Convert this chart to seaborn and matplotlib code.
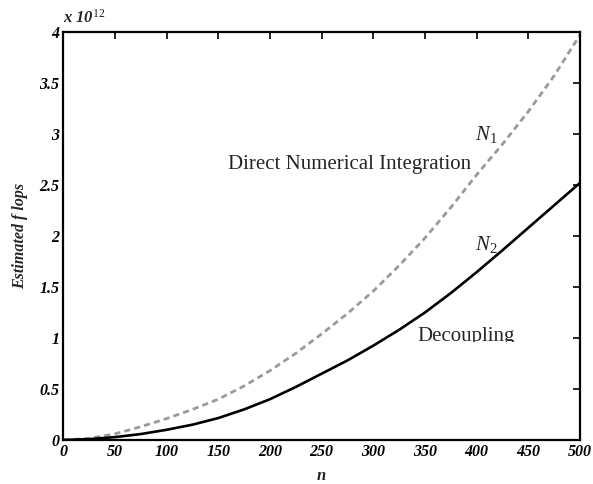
import numpy as np
import pandas as pd
import matplotlib
matplotlib.use("Agg")
import matplotlib.pyplot as plt
import seaborn as sns
from matplotlib.ticker import FuncFormatter
from matplotlib.patches import Rectangle

# data (values in units of 1e12 flops)
n = [0, 25, 50, 75, 100, 125, 150, 175, 200, 225, 250, 275, 300, 325, 350, 375, 400, 425, 450, 475, 500]
n1_direct = [0, 0.015, 0.06, 0.13, 0.21, 0.30, 0.40, 0.53, 0.68, 0.85, 1.04, 1.24, 1.46, 1.71, 1.98, 2.28, 2.60, 2.90, 3.22, 3.57, 3.97]
n2_decoupling = [0, 0.008, 0.028, 0.058, 0.10, 0.15, 0.215, 0.30, 0.40, 0.52, 0.65, 0.78, 0.925, 1.08, 1.25, 1.44, 1.645, 1.86, 2.08, 2.30, 2.52]
x_ticks = [0, 50, 100, 150, 200, 250, 300, 350, 400, 450, 500]
y_ticks = [0, 0.5, 1, 1.5, 2, 2.5, 3, 3.5, 4]

sns.set_style("white")
plt.rcParams['font.family'] = ['Liberation Serif', 'DejaVu Serif']
plt.rcParams['mathtext.fontset'] = 'custom'
plt.rcParams['mathtext.rm'] = 'Liberation Serif'
plt.rcParams['mathtext.it'] = 'Liberation Serif:italic'
plt.rcParams['mathtext.bf'] = 'Liberation Serif:bold:italic'

df = pd.DataFrame({"n": n, "N1": n1_direct, "N2": n2_decoupling})

fig = plt.figure(figsize=(5.93, 4.84), dpi=100)
ax = fig.add_axes([0.107, 0.091, 0.871, 0.843])

sns.lineplot(data=df, x="n", y="N1", ax=ax, color="#9a9a9a", linewidth=2.0,
             linestyle=(0, (2.2, 1.5)))
sns.lineplot(data=df, x="n", y="N2", ax=ax, color="black", linewidth=1.9)

ax.set_xlim(0, 500)
ax.set_ylim(0, 4)
ax.set_xticks(x_ticks)
ax.set_yticks(y_ticks)
ax.yaxis.set_major_formatter(FuncFormatter(lambda v, p: "%g" % v))
ax.xaxis.set_major_formatter(FuncFormatter(lambda v, p: "%g" % v))
ax.tick_params(direction="in", length=5, width=1.2, top=True, right=True,
               labelsize=11.5, pad=3, colors="black")
for lab in ax.get_xticklabels() + ax.get_yticklabels():
    lab.set_fontstyle("italic")
    lab.set_fontweight("bold")
for s in ax.spines.values():
    s.set_linewidth(1.6)
    s.set_color("black")

ax.set_xlabel("n", fontsize=12, fontstyle="italic", fontweight="bold", labelpad=6)
ax.set_ylabel("Estimated f lops", fontsize=11.5, fontstyle="italic", fontweight="bold")
ax.yaxis.set_label_coords(-0.068, 0.50)

ax.text(0.0, 1.012, r"x 10$^{12}$", transform=ax.transAxes, fontsize=12,
        fontstyle="italic", fontweight="bold", ha="left", va="bottom")

ax.text(159, 2.657, "Direct Numerical Integration", fontsize=15, ha="left", va="baseline")
dec = ax.text(343, 0.975, "Decoupling", fontsize=15, ha="left", va="baseline", clip_on=True)
clip = Rectangle((0, 0.96), 500, 3.0, transform=ax.transData, fill=False, visible=False)
ax.add_patch(clip)
dec.set_clip_path(clip)
dec.set_clip_on(True)
ax.text(398, 2.94, r"$N_1$", fontsize=15, ha="left", va="baseline")
ax.text(398, 1.86, r"$N_2$", fontsize=15, ha="left", va="baseline")

fig.savefig("out.png", dpi=100)
